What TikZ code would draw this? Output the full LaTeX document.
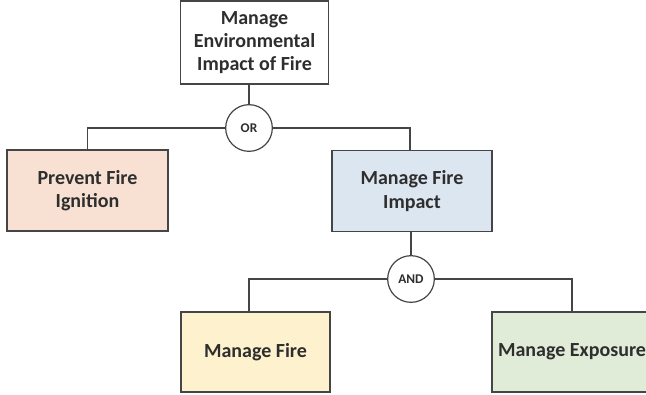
\documentclass[tikz,border=0pt]{standalone}
\usepackage{fontspec}
\setmainfont{Carlito}
\usetikzlibrary{calc}
\definecolor{edge}{HTML}{454545}
\definecolor{txt}{HTML}{2E2E2E}
\definecolor{peach}{HTML}{F8E1D2}
\definecolor{lblue}{HTML}{DCE6F1}
\definecolor{lyellow}{HTML}{FDF1CE}
\definecolor{lgreen}{HTML}{E0EBD8}
\begin{document}
\begin{tikzpicture}[x=0.75pt,y=-0.75pt,
  goalbox/.style={draw=edge,line width=1.1pt,rectangle,align=center,inner sep=0pt,
    font=\fontsize{15}{17.5}\selectfont\bfseries,text=txt},
  gate/.style={draw=edge,line width=0.9pt,circle,minimum size=35pt,inner sep=0pt,
    fill=white,font=\fontsize{10}{11}\selectfont\bfseries,text=txt},
  conn/.style={draw=edge,line width=1.1pt}]
\useasboundingbox (0,0) rectangle (646,394);
\node[goalbox,fill=white,minimum width=111pt,minimum height=62pt] (top) at (254.5,42.5)
  {Manage\\Environmental\\Impact of Fire};
\node[gate] (or) at (249,128) {OR};
\node[goalbox,fill=peach,minimum width=121pt,minimum height=61pt] (pfi) at (87.5,190.5)
  {Prevent Fire\\Ignition};
\node[goalbox,fill=lblue,minimum width=120pt,minimum height=61pt] (mfi) at (412,191)
  {Manage Fire\\Impact};
\node[gate] (and) at (411,279) {AND};
\node[goalbox,fill=lyellow,minimum width=112pt,minimum height=60pt] (mf) at (255.5,352)
  {Manage Fire};
\node[goalbox,fill=lgreen,minimum width=120pt,minimum height=60pt] (me) at (572,352)
  {Manage Exposure};
\draw[conn] (top.south -| or.north) -- (or);
\draw[conn] (or) -| (pfi.north);
\draw[conn] (or) -| ($(mfi.north)+(-2,0)$);
\draw[conn] (mfi.south -| and.north) -- (and);
\draw[conn] (and) -| ($(mf.north)+(-6.5,0)$);
\draw[conn] (and) -| (me.north);
\end{tikzpicture}
\end{document}
